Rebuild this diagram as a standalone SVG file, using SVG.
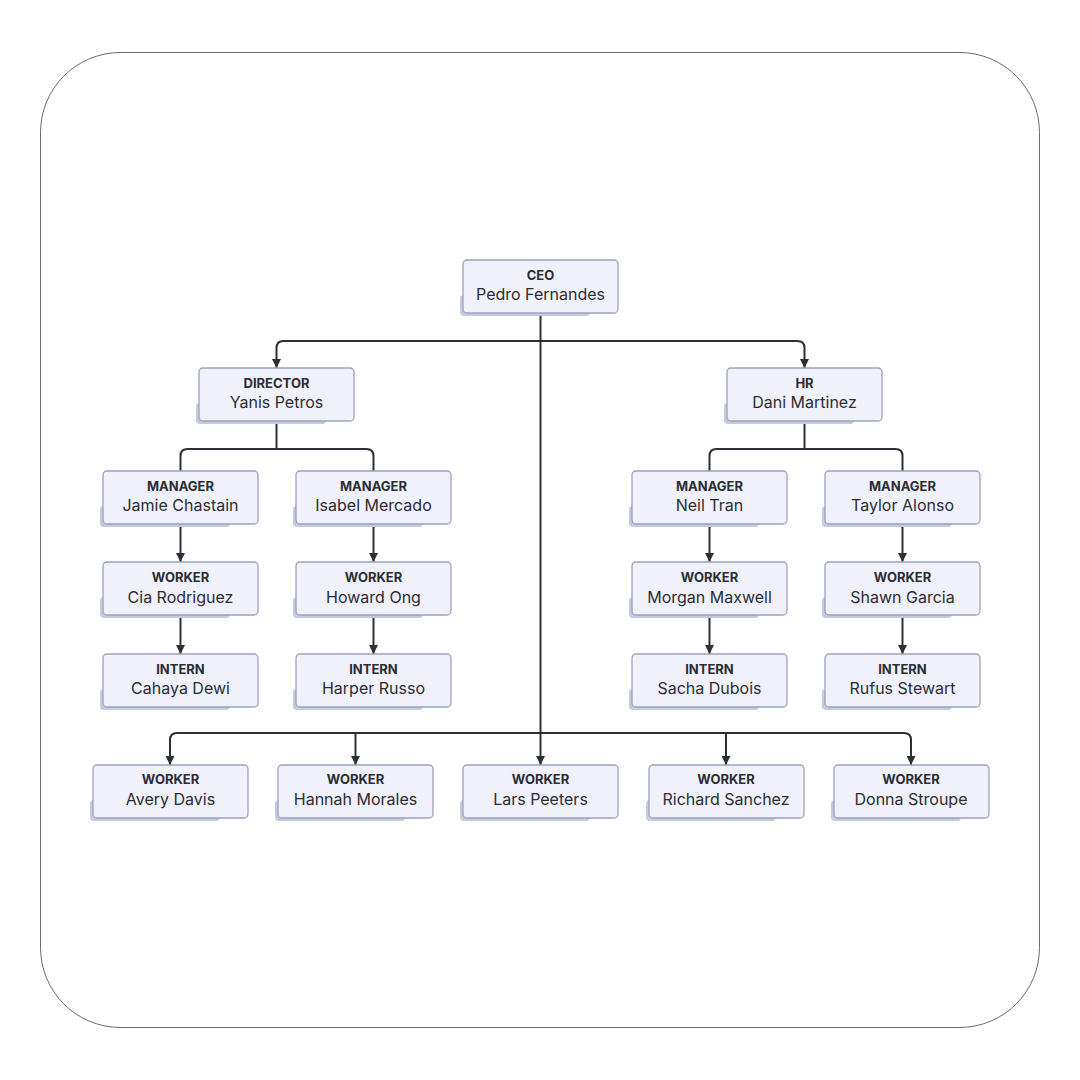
<svg xmlns="http://www.w3.org/2000/svg" width="1080" height="1080" viewBox="0 0 1080 1080">
<defs>
<style>
.frame{fill:#ffffff;stroke:#6b6b6b;stroke-width:1}
.box{fill:#f1f1fb;stroke:#9ba2bd;stroke-width:1.3}
.sh{fill:#c4cadf}
.role{font-family:Inter,"Liberation Sans",sans-serif;font-size:13px;font-weight:700;fill:#2a2d34;text-anchor:middle}
.name{font-family:Inter,"Liberation Sans",sans-serif;font-size:16px;fill:#2a2d34;text-anchor:middle}
.c{fill:none;stroke:#2b2f36;stroke-width:2}
</style>
<marker id="ah" viewBox="0 0 10 10" refX="10" refY="5" markerWidth="9" markerHeight="9" markerUnits="userSpaceOnUse" orient="auto">
<path d="M0,0 L10,5 L0,10 z" fill="#2b2f36"/>
</marker>
</defs>
<rect width="1080" height="1080" fill="#ffffff"/>
<rect class="frame" x="40.5" y="52.5" width="999" height="975" rx="80" ry="80"/>

<g id="connectors">
<path class="c" d="M540.5 313 V765" marker-end="url(#ah)"/>
<path class="c" d="M540.5 341 H283.5 Q276.5 341 276.5 348 V368" marker-end="url(#ah)"/>
<path class="c" d="M540.5 341 H797.5 Q804.5 341 804.5 348 V368" marker-end="url(#ah)"/>
<path class="c" d="M276.5 421 V449 M187.5 449 H366.5 M187.5 449 Q180.5 449 180.5 456 V471 M366.5 449 Q373.5 449 373.5 456 V471"/>
<path class="c" d="M804.5 421 V449 M716.5 449 H895.5 M716.5 449 Q709.5 449 709.5 456 V471 M895.5 449 Q902.5 449 902.5 456 V471"/>
<path class="c" d="M180.5 524 V562" marker-end="url(#ah)"/>
<path class="c" d="M373.5 524 V562" marker-end="url(#ah)"/>
<path class="c" d="M709.5 524 V562" marker-end="url(#ah)"/>
<path class="c" d="M902.5 524 V562" marker-end="url(#ah)"/>
<path class="c" d="M180.5 615 V654" marker-end="url(#ah)"/>
<path class="c" d="M373.5 615 V654" marker-end="url(#ah)"/>
<path class="c" d="M709.5 615 V654" marker-end="url(#ah)"/>
<path class="c" d="M902.5 615 V654" marker-end="url(#ah)"/>
<path class="c" d="M540.5 733 H177 Q170 733 170 740 V765" marker-end="url(#ah)"/>
<path class="c" d="M540.5 733 H904 Q911 733 911 740 V765" marker-end="url(#ah)"/>
<path class="c" d="M355.5 733 V765" marker-end="url(#ah)"/>
<path class="c" d="M726 733 V765" marker-end="url(#ah)"/>
</g>

<g id="n-ceo"><rect class="sh" x="460" y="295" width="130" height="21" rx="4"/><rect class="box" x="463" y="260" width="155" height="53" rx="4"/><text class="role" x="540.5" y="280">CEO</text><text class="name" x="540.5" y="300">Pedro Fernandes</text></g>

<g id="n-director"><rect class="sh" x="196" y="403" width="130" height="21" rx="4"/><rect class="box" x="199" y="368" width="155" height="53" rx="4"/><text class="role" x="276.5" y="388">DIRECTOR</text><text class="name" x="276.5" y="408">Yanis Petros</text></g>
<g id="n-hr"><rect class="sh" x="724" y="403" width="130" height="21" rx="4"/><rect class="box" x="727" y="368" width="155" height="53" rx="4"/><text class="role" x="804.5" y="388">HR</text><text class="name" x="804.5" y="408">Dani Martinez</text></g>

<g id="n-jamie"><rect class="sh" x="100" y="506" width="130" height="21" rx="4"/><rect class="box" x="103" y="471" width="155" height="53" rx="4"/><text class="role" x="180.5" y="491">MANAGER</text><text class="name" x="180.5" y="511">Jamie Chastain</text></g>
<g id="n-isabel"><rect class="sh" x="293" y="506" width="130" height="21" rx="4"/><rect class="box" x="296" y="471" width="155" height="53" rx="4"/><text class="role" x="373.5" y="491">MANAGER</text><text class="name" x="373.5" y="511">Isabel Mercado</text></g>
<g id="n-neil"><rect class="sh" x="629" y="506" width="130" height="21" rx="4"/><rect class="box" x="632" y="471" width="155" height="53" rx="4"/><text class="role" x="709.5" y="491">MANAGER</text><text class="name" x="709.5" y="511">Neil Tran</text></g>
<g id="n-taylor"><rect class="sh" x="822" y="506" width="130" height="21" rx="4"/><rect class="box" x="825" y="471" width="155" height="53" rx="4"/><text class="role" x="902.5" y="491">MANAGER</text><text class="name" x="902.5" y="511">Taylor Alonso</text></g>

<g id="n-cia"><rect class="sh" x="100" y="597" width="130" height="21" rx="4"/><rect class="box" x="103" y="562" width="155" height="53" rx="4"/><text class="role" x="180.5" y="582">WORKER</text><text class="name" x="180.5" y="603">Cia Rodriguez</text></g>
<g id="n-howard"><rect class="sh" x="293" y="597" width="130" height="21" rx="4"/><rect class="box" x="296" y="562" width="155" height="53" rx="4"/><text class="role" x="373.5" y="582">WORKER</text><text class="name" x="373.5" y="603">Howard Ong</text></g>
<g id="n-morgan"><rect class="sh" x="629" y="597" width="130" height="21" rx="4"/><rect class="box" x="632" y="562" width="155" height="53" rx="4"/><text class="role" x="709.5" y="582">WORKER</text><text class="name" x="709.5" y="603">Morgan Maxwell</text></g>
<g id="n-shawn"><rect class="sh" x="822" y="597" width="130" height="21" rx="4"/><rect class="box" x="825" y="562" width="155" height="53" rx="4"/><text class="role" x="902.5" y="582">WORKER</text><text class="name" x="902.5" y="603">Shawn Garcia</text></g>

<g id="n-cahaya"><rect class="sh" x="100" y="689" width="130" height="21" rx="4"/><rect class="box" x="103" y="654" width="155" height="53" rx="4"/><text class="role" x="180.5" y="674">INTERN</text><text class="name" x="180.5" y="694">Cahaya Dewi</text></g>
<g id="n-harper"><rect class="sh" x="293" y="689" width="130" height="21" rx="4"/><rect class="box" x="296" y="654" width="155" height="53" rx="4"/><text class="role" x="373.5" y="674">INTERN</text><text class="name" x="373.5" y="694">Harper Russo</text></g>
<g id="n-sacha"><rect class="sh" x="629" y="689" width="130" height="21" rx="4"/><rect class="box" x="632" y="654" width="155" height="53" rx="4"/><text class="role" x="709.5" y="674">INTERN</text><text class="name" x="709.5" y="694">Sacha Dubois</text></g>
<g id="n-rufus"><rect class="sh" x="822" y="689" width="130" height="21" rx="4"/><rect class="box" x="825" y="654" width="155" height="53" rx="4"/><text class="role" x="902.5" y="674">INTERN</text><text class="name" x="902.5" y="694">Rufus Stewart</text></g>

<g id="n-avery"><rect class="sh" x="90" y="800" width="130" height="21" rx="4"/><rect class="box" x="93" y="765" width="155" height="53" rx="4"/><text class="role" x="170.5" y="784">WORKER</text><text class="name" x="170.5" y="805">Avery Davis</text></g>
<g id="n-hannah"><rect class="sh" x="275" y="800" width="130" height="21" rx="4"/><rect class="box" x="278" y="765" width="155" height="53" rx="4"/><text class="role" x="355.5" y="784">WORKER</text><text class="name" x="355.5" y="805">Hannah Morales</text></g>
<g id="n-lars"><rect class="sh" x="460" y="800" width="130" height="21" rx="4"/><rect class="box" x="463" y="765" width="155" height="53" rx="4"/><text class="role" x="540.5" y="784">WORKER</text><text class="name" x="540.5" y="805">Lars Peeters</text></g>
<g id="n-richard"><rect class="sh" x="646" y="800" width="130" height="21" rx="4"/><rect class="box" x="649" y="765" width="155" height="53" rx="4"/><text class="role" x="726" y="784">WORKER</text><text class="name" x="726" y="805">Richard Sanchez</text></g>
<g id="n-donna"><rect class="sh" x="831" y="800" width="130" height="21" rx="4"/><rect class="box" x="834" y="765" width="155" height="53" rx="4"/><text class="role" x="911" y="784">WORKER</text><text class="name" x="911" y="805">Donna Stroupe</text></g>
</svg>
